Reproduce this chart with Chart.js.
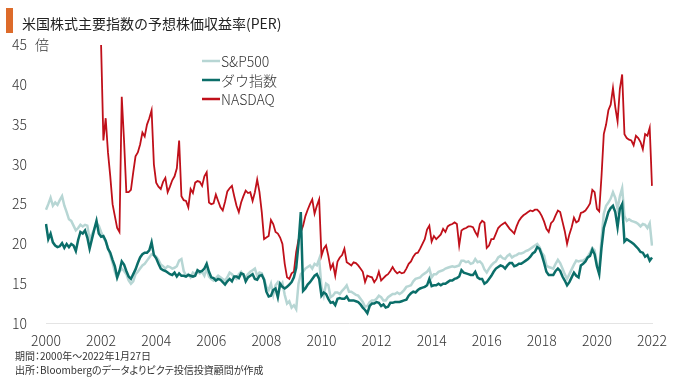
<!DOCTYPE html>
<html lang="ja">
<head>
<meta charset="utf-8">
<script src="https://cdn.jsdelivr.net/npm/chart.js@4.4.1/dist/chart.umd.min.js"></script>
<style>
  html, body { margin: 0; padding: 0; background: #fff; }
  #wrap { position: relative; width: 680px; height: 377px; font-family: 'Noto Sans CJK JP', sans-serif; }
  #myChart { position: absolute; left: 0; top: 0; }
  .bar { position: absolute; left: 6px; top: 8px; width: 7px; height: 25px; background: #dd6b2a; }
  .title { position: absolute; left: 22px; top: 12px; font-size: 14px; line-height: 22px; color: #222; white-space: nowrap; }
  .note { position: absolute; left: 15px; font-size: 10px; line-height: 14px; color: #333; white-space: nowrap; font-feature-settings: "palt"; }
</style>
</head>
<body>
<div id="wrap">
  <canvas id="myChart" width="680" height="377"></canvas>
  <div class="bar"></div>
  <div class="title">米国株式主要指数の予想株価収益率(PER)</div>
  <div class="note" style="top:349px">期間：2000年～2022年1月27日</div>
  <div class="note" style="top:363px">出所：Bloombergのデータよりピクテ投信投資顧問が作成</div>
</div>
<script>
// Monthly categories, Jan 2000 .. Jan 2022
const months = [];
for (let y = 2000; y <= 2021; y++) {
    for (let m = 1; m <= 12; m++) months.push(y + '-' + m);
}
months.push('2022-1');

// Tick labels on the x axis (every 2 years)
const yearTicks = ['2000', '2002', '2004', '2006', '2008', '2010', '2012', '2014', '2016', '2018', '2020', '2022'];
const seriesNames = ['S&P500', 'ダウ指数', 'NASDAQ'];

// S&P500 forward PER
const sp500 = [
    24.3, 25.0, 25.8, 24.8, 25.2, 24.9, 25.5, 26.0, 24.8, 24.0, 23.1, 22.9, // 2000
    22.3, 21.7, 22.0, 22.4, 22.2, 22.4, 22.3, 20.6, 21.2, 21.8, 22.6, 22.3, // 2001
    21.5, 20.8, 20.3, 19.5, 18.6, 17.6, 16.5, 15.7, 16.5, 16.9, 16.6, 16.2, // 2002
    15.4, 15.0, 15.3, 16.2, 16.5, 16.9, 17.3, 17.5, 17.9, 18.3, 18.7, 18.6, // 2003
    18.4, 18.0, 17.4, 17.2, 16.9, 17.2, 17.1, 16.9, 17.0, 17.2, 17.9, 18.1, // 2004
    16.6, 16.0, 16.2, 15.8, 16.4, 16.2, 16.5, 16.3, 16.5, 16.0, 16.9, 15.9, // 2005
    15.6, 15.4, 15.7, 16.0, 15.8, 15.6, 15.4, 15.8, 16.4, 16.2, 15.8, 15.6, // 2006
    16.2, 16.5, 16.0, 15.8, 16.2, 16.5, 16.7, 16.9, 16.0, 16.4, 16.3, 15.6, // 2007
    14.6, 14.2, 15.0, 13.6, 14.8, 15.2, 14.6, 15.1, 13.6, 12.5, 12.8, 12.0, // 2008
    12.3, 11.8, 15.0, 16.2, 16.5, 16.9, 17.1, 17.3, 16.9, 17.5, 17.3, 18.1, // 2009
    14.6, 13.5, 15.0, 14.8, 13.3, 13.5, 13.9, 13.9, 13.7, 14.1, 14.4, 14.8, // 2010
    14.0, 14.0, 13.8, 13.6, 13.5, 13.1, 12.7, 12.1, 12.2, 12.7, 12.9, 12.9, // 2011
    13.1, 13.5, 13.3, 12.9, 12.9, 13.3, 13.5, 13.7, 13.7, 13.9, 13.7, 13.9, // 2012
    14.2, 14.6, 14.7, 14.8, 15.3, 15.6, 15.7, 15.8, 16.1, 16.3, 16.5, 16.9, // 2013
    15.8, 16.2, 16.2, 16.5, 16.6, 16.7, 16.9, 17.0, 17.1, 17.2, 17.1, 17.2, // 2014
    17.3, 17.9, 17.9, 17.7, 17.8, 17.5, 17.6, 18.1, 17.7, 17.8, 17.5, 16.8, // 2015
    16.4, 16.9, 17.3, 17.6, 17.8, 18.3, 18.5, 18.2, 18.1, 18.5, 18.7, 18.3, // 2016
    18.5, 18.6, 18.8, 18.8, 18.9, 19.1, 19.2, 19.4, 19.6, 19.8, 20.0, 19.6, // 2017
    18.9, 18.5, 17.3, 17.1, 17.0, 16.9, 17.5, 18.0, 17.6, 16.9, 16.2, 15.6, // 2018
    16.2, 16.8, 17.4, 17.9, 17.8, 17.9, 17.9, 18.1, 18.4, 18.9, 19.5, 19.2, // 2019
    17.5, 16.8, 20.6, 23.8, 24.8, 25.2, 25.7, 26.5, 25.8, 24.4, 26.0, 27.0, // 2020
    23.5, 22.9, 23.1, 22.9, 22.8, 22.7, 22.5, 22.2, 22.5, 22.4, 22.0, 22.6, // 2021
    19.8                                                                    // 2022
];

// Dow forward PER
const dow = [
    22.5, 20.6, 21.3, 20.2, 19.8, 19.6, 19.7, 20.1, 19.5, 20.0, 19.6, 20.0, // 2000
    19.8, 19.1, 20.5, 21.5, 21.3, 21.7, 20.8, 19.4, 20.6, 21.8, 22.9, 21.3, // 2001
    20.9, 21.0, 20.4, 19.4, 18.9, 18.0, 17.2, 15.8, 16.6, 17.8, 17.4, 16.6, // 2002
    15.9, 15.6, 16.2, 16.8, 17.6, 18.3, 18.7, 18.9, 18.9, 19.2, 20.2, 18.6, // 2003
    18.2, 17.5, 16.9, 16.7, 16.6, 16.4, 16.2, 16.1, 16.4, 15.9, 16.3, 16.0, // 2004
    16.0, 15.9, 16.1, 16.0, 15.9, 16.0, 16.7, 16.5, 16.6, 16.9, 17.5, 16.5, // 2005
    15.8, 15.7, 15.4, 15.6, 15.5, 15.2, 14.9, 15.3, 15.6, 15.3, 15.9, 15.9, // 2006
    15.7, 16.3, 16.2, 15.3, 15.8, 16.0, 16.2, 15.6, 15.5, 16.0, 16.1, 15.5, // 2007
    14.0, 13.4, 13.5, 14.2, 14.4, 13.3, 15.0, 14.6, 14.4, 14.6, 14.9, 15.2, // 2008
    15.8, 17.0, 20.0, 24.0, 14.1, 14.4, 14.9, 15.2, 15.6, 16.0, 16.2, 15.6, // 2009
    13.5, 13.9, 13.7, 13.1, 12.6, 12.7, 12.3, 13.1, 13.2, 13.1, 13.1, 13.4, // 2010
    12.9, 12.9, 12.9, 12.8, 12.7, 12.4, 12.0, 11.7, 11.3, 12.2, 12.5, 12.5, // 2011
    12.7, 12.6, 12.2, 12.4, 12.0, 12.1, 12.6, 12.6, 12.7, 12.7, 12.7, 12.8, // 2012
    12.9, 13.0, 13.5, 13.8, 14.0, 13.9, 14.2, 14.4, 14.5, 14.6, 14.8, 15.6, // 2013
    14.7, 14.8, 14.8, 15.0, 14.8, 15.0, 15.0, 15.2, 15.4, 15.4, 15.6, 15.7, // 2014
    15.9, 16.7, 16.4, 16.3, 16.2, 16.1, 16.1, 16.5, 15.8, 15.6, 15.6, 15.0, // 2015
    15.2, 15.6, 16.0, 16.5, 16.9, 17.1, 17.3, 17.2, 16.9, 17.3, 17.6, 17.6, // 2016
    17.2, 17.3, 17.5, 17.5, 17.7, 17.9, 18.1, 18.4, 18.8, 19.0, 19.6, 19.4, // 2017
    18.6, 17.6, 16.5, 16.1, 16.1, 16.1, 16.6, 16.9, 16.6, 15.9, 15.4, 14.8, // 2018
    15.2, 15.8, 16.4, 16.0, 15.8, 17.3, 17.5, 17.8, 18.3, 18.5, 19.3, 18.7, // 2019
    17.2, 16.2, 19.5, 22.0, 23.0, 24.0, 24.5, 24.8, 24.0, 22.1, 24.4, 25.0, // 2020
    20.3, 20.6, 20.4, 20.2, 20.0, 19.7, 19.4, 19.0, 18.9, 18.4, 18.6, 17.9, // 2021
    18.3                                                                    // 2022
];

// NASDAQ forward PER (no data before 2002)
const nasdaq = [
    null, null, null, null, null, null, null, null, null, null, null, null, // 2000
    null, null, null, null, null, null, null, null, null, null, null, null, // 2001
    45.0, 33.0, 35.8, 31.5, 28.5, 25.0, 23.5, 22.0, 21.5, 38.5, 33.0, 26.5, // 2002
    26.5, 26.8, 29.0, 31.0, 31.5, 32.5, 34.0, 33.5, 35.0, 35.8, 36.8, 30.0, // 2003
    27.7, 27.2, 26.9, 27.8, 28.3, 26.5, 27.2, 28.0, 28.5, 29.5, 33.0, 26.0, // 2004
    25.5, 25.4, 24.6, 26.9, 26.4, 27.7, 27.9, 27.8, 27.3, 28.5, 29.0, 25.2, // 2005
    25.0, 25.1, 26.2, 25.4, 24.6, 24.2, 25.3, 26.6, 27.0, 27.3, 26.0, 24.8, // 2006
    24.0, 25.2, 26.0, 26.7, 26.4, 26.5, 25.4, 26.5, 28.1, 26.5, 24.0, 20.6, // 2007
    20.8, 21.0, 23.0, 22.5, 21.5, 21.3, 20.8, 20.0, 17.5, 15.8, 15.6, 16.3, // 2008
    16.5, 19.0, 20.5, 21.5, 22.3, 23.5, 24.3, 25.0, 25.6, 23.8, 24.8, 25.6, // 2009
    18.5, 19.4, 19.8, 18.5, 16.9, 17.5, 16.0, 17.8, 18.3, 18.6, 19.4, 17.7, // 2010
    17.5, 17.3, 17.7, 17.6, 17.3, 16.9, 16.5, 15.2, 16.0, 15.9, 15.8, 15.2, // 2011
    15.6, 16.5, 15.4, 15.7, 16.0, 16.2, 16.6, 17.1, 16.6, 16.3, 16.5, 16.3, // 2012
    16.4, 16.9, 17.5, 17.8, 18.4, 18.8, 18.9, 19.4, 20.0, 20.6, 21.8, 22.3, // 2013
    20.3, 21.0, 20.6, 20.9, 21.2, 21.9, 21.5, 22.2, 22.4, 22.5, 22.7, 22.5, // 2014
    19.8, 21.7, 21.9, 22.0, 22.2, 22.2, 22.1, 21.5, 21.0, 22.5, 22.9, 22.7, // 2015
    19.5, 19.8, 20.6, 20.6, 21.3, 22.0, 22.3, 22.5, 22.7, 22.3, 21.9, 21.6, // 2016
    21.3, 22.2, 22.9, 23.3, 23.6, 23.8, 24.0, 24.2, 24.1, 24.3, 24.3, 24.0, // 2017
    23.5, 22.8, 21.9, 21.5, 22.6, 22.9, 23.6, 24.2, 24.0, 22.8, 21.6, 20.0, // 2018
    21.2, 22.1, 23.3, 22.7, 22.9, 23.9, 24.0, 24.2, 24.6, 25.1, 26.8, 26.5, // 2019
    24.4, 24.1, 28.5, 33.8, 35.0, 36.8, 37.5, 39.6, 37.2, 35.4, 39.5, 41.3, // 2020
    33.8, 33.3, 33.1, 33.0, 32.4, 33.6, 33.3, 32.8, 31.9, 33.8, 33.6, 34.6, // 2021
    27.3                                                                    // 2022
];

const FONT = "'Noto Sans CJK JP', sans-serif";

// Legend + unit label drawn inside the plot
const legendPlugin = {
    id: 'innerLegend',
    afterDraw(chart) {
        const ctx = chart.ctx;
        const y0 = chart.scales.y.getPixelForValue(45);
        ctx.save();
        ctx.font = '300 14px ' + FONT;
        ctx.fillStyle = '#333';
        ctx.textBaseline = 'middle';
        ctx.fillText('倍', 35, y0);
        chart.data.datasets.forEach(function(ds, i) {
            const y = 61 + i * 19;
            ctx.strokeStyle = ds.borderColor;
            ctx.lineWidth = 2.5;
            ctx.beginPath();
            ctx.moveTo(202, y);
            ctx.lineTo(220, y);
            ctx.stroke();
            ctx.fillStyle = '#333';
            ctx.fillText(ds.label, 221, y + 0.5);
        });
        ctx.restore();
    }
};

const data = {
    labels: months,
    datasets: [
        { label: seriesNames[0], data: sp500, borderColor: '#b7d6d4', borderWidth: 2.5, order: 2 },
        { label: seriesNames[1], data: dow, borderColor: '#0b6e69', borderWidth: 2.5, order: 0 },
        { label: seriesNames[2], data: nasdaq, borderColor: '#c0101a', borderWidth: 1.8, order: 1 }
    ]
};

const config = {
    type: 'line',
    data,
    options: {
        responsive: false,
        animation: false,
        devicePixelRatio: 1,
        layout: { padding: { top: 45, right: 28, bottom: 29.5, left: 0 } },
        elements: { point: { radius: 0 }, line: { tension: 0 } },
        plugins: { legend: { display: false }, tooltip: { enabled: false } },
        scales: {
            x: {
                grid: { display: false, drawTicks: false },
                border: { display: true, color: '#e4e4e4', width: 1 },
                ticks: {
                    autoSkip: false,
                    maxRotation: 0,
                    padding: 9,
                    color: '#333',
                    font: { family: FONT, size: 14, weight: '300' },
                    callback: function(val, index) {
                        return index % 24 === 0 ? yearTicks[index / 24] : '';
                    }
                },
                afterFit: function(scale) { scale.height = 24; }
            },
            y: {
                min: 10,
                max: 45,
                grid: { display: false, drawTicks: false },
                border: { display: false },
                ticks: {
                    stepSize: 5,
                    padding: 19,
                    color: '#333',
                    font: { family: FONT, size: 14, weight: '300' }
                },
                afterFit: function(scale) { scale.width = 46; }
            }
        }
    },
    plugins: [legendPlugin]
};

const myChart = new Chart(document.getElementById('myChart'), config);
</script>
</body>
</html>
